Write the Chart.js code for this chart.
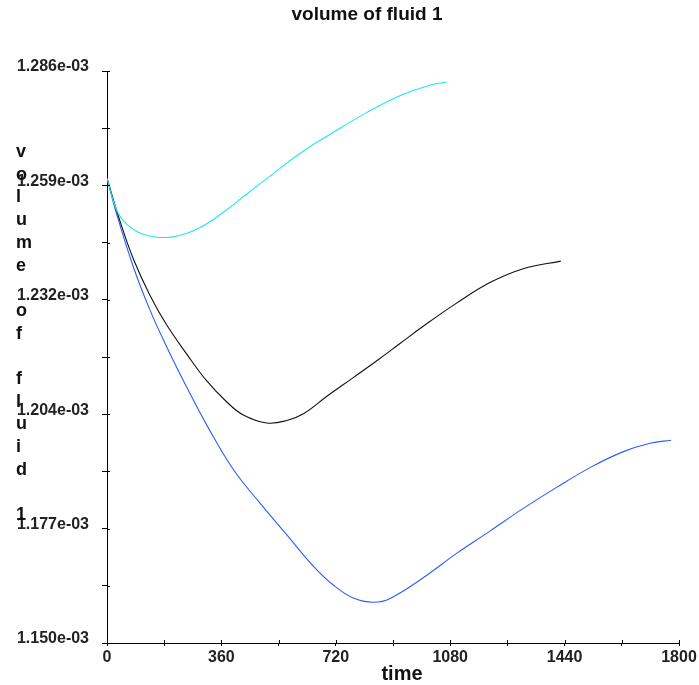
<!DOCTYPE html>
<html>
<head>
<meta charset="utf-8">
<script src="https://cdn.jsdelivr.net/npm/chart.js@4/dist/chart.umd.min.js"></script>
<style>
  html, body { margin: 0; padding: 0; background: #fff; }
  #wrap { width: 699px; height: 685px; position: relative; }
</style>
</head>
<body>
<div id="wrap"><canvas id="fluidChart"></canvas></div>
<script>
// time values (x) and volume of fluid 1 (y)
const cyanTime = [0, 30, 62, 114, 188, 251, 314, 377, 429, 523, 607, 712, 817, 922, 1016, 1069];
const cyanVol = [1.2605e-3, 1.2530e-3, 1.2496e-3, 1.2472e-3, 1.2464e-3, 1.2474e-3, 1.2497e-3, 1.2530e-3,
                 1.2561e-3, 1.2616e-3, 1.2664e-3, 1.2714e-3, 1.2761e-3, 1.2801e-3, 1.2826e-3, 1.2834e-3];

const blackTime = [0, 41, 83, 135, 188, 251, 314, 377, 429, 503, 566, 618, 691, 775, 849, 922, 995, 1100, 1205, 1310, 1428];
const blackVol = [1.2605e-3, 1.2503e-3, 1.2413e-3, 1.2327e-3, 1.2256e-3, 1.2187e-3, 1.2123e-3, 1.2073e-3,
                  1.2042e-3, 1.2023e-3, 1.2029e-3, 1.2045e-3, 1.2086e-3, 1.2131e-3, 1.2171e-3, 1.2212e-3,
                  1.2253e-3, 1.2308e-3, 1.2357e-3, 1.2390e-3, 1.2408e-3];

const blueTime = [0, 30, 83, 135, 188, 251, 314, 397, 481, 566, 649, 712, 775, 838, 891, 995, 1100, 1205, 1310, 1415, 1520, 1625, 1709, 1775];
const blueVol = [1.2605e-3, 1.2521e-3, 1.2394e-3, 1.2292e-3, 1.2204e-3, 1.2108e-3, 1.2018e-3, 1.1913e-3,
                 1.1833e-3, 1.1757e-3, 1.1683e-3, 1.1638e-3, 1.1607e-3, 1.1597e-3, 1.1606e-3, 1.1655e-3,
                 1.1713e-3, 1.1766e-3, 1.1820e-3, 1.1870e-3, 1.1917e-3, 1.1955e-3, 1.1975e-3, 1.1982e-3];

const xTickValues = [0, 180, 360, 540, 720, 900, 1080, 1260, 1440, 1620, 1800];
const xTickLabels = ['0', '', '360', '', '720', '', '1080', '', '1440', '', '1800'];
const yTickValues = [1.150e-3, 1.1636e-3, 1.1772e-3, 1.1908e-3, 1.2044e-3, 1.2180e-3, 1.2316e-3, 1.2452e-3, 1.2588e-3, 1.2724e-3, 1.286e-3];
const yTickLabels = ['1.150e-03', '', '1.177e-03', '', '1.204e-03', '', '1.232e-03', '', '1.259e-03', '', '1.286e-03'];

const chartTitle = 'volume of fluid 1';
const xTitle = 'time';
const yTitle = 'volume of fluid 1';

const FONT = '"Liberation Sans", Arial, sans-serif';

function toPoints(xs, ys) {
    const pts = [];
    for (var i = 0; i < xs.length; i++) {
        pts.push({ x: xs[i], y: ys[i] });
    }
    return pts;
}

function makeLine(xs, ys, color) {
    return {
        data: toPoints(xs, ys),
        borderColor: color,
        backgroundColor: color,
        borderWidth: 1.1,
        pointRadius: 0,
        fill: false,
        tension: 0.4
    };
}

// titles, stacked y label and the inner half of each tick mark
const textPlugin = {
    id: 'textPlugin',
    afterDraw(chart) {
        const ctx = chart.ctx;
        const xs = chart.scales.x;
        const ys = chart.scales.y;
        ctx.save();
        ctx.strokeStyle = '#000';
        ctx.lineWidth = 1;
        ctx.beginPath();
        for (var i = 0; i < xTickValues.length; i++) {
            const px = Math.round(xs.getPixelForValue(xTickValues[i])) + 0.5;
            ctx.moveTo(px, xs.top);
            ctx.lineTo(px, xs.top - 3);
        }
        for (var j = 0; j < yTickValues.length; j++) {
            const py = Math.round(ys.getPixelForValue(yTickValues[j])) + 0.5;
            ctx.moveTo(ys.right, py);
            ctx.lineTo(ys.right + 3, py);
        }
        ctx.stroke();

        ctx.fillStyle = '#111';
        ctx.textAlign = 'center';
        ctx.textBaseline = 'middle';
        ctx.font = 'bold 19px ' + FONT;
        ctx.fillText(chartTitle, 367, 15);
        ctx.font = 'bold 20px ' + FONT;
        ctx.textBaseline = 'alphabetic';
        ctx.fillText(xTitle, 402, 680);

        ctx.textAlign = 'left';
        ctx.font = 'bold 18px ' + FONT;
        for (var k = 0; k < yTitle.length; k++) {
            if (yTitle[k] !== ' ') {
                ctx.fillText(yTitle[k], 16, 157 + k * 22.7);
            }
        }
        ctx.restore();
    }
};

new Chart(document.getElementById('fluidChart').getContext('2d'), {
    type: 'line',
    data: {
        datasets: [
            makeLine(cyanTime, cyanVol, '#1ee8ef'),
            makeLine(blackTime, blackVol, '#111111'),
            makeLine(blueTime, blueVol, '#2c5cff')
        ]
    },
    options: {
        responsive: true,
        maintainAspectRatio: false,
        animation: false,
        events: [],
        layout: { padding: { top: 71, right: 20, left: 0, bottom: 0 } },
        plugins: {
            legend: { display: false },
            tooltip: { enabled: false },
            title: { display: false }
        },
        scales: {
            x: {
                type: 'linear',
                min: 0,
                max: 1800,
                afterBuildTicks: function (scale) {
                    scale.ticks = xTickValues.map(function (v) { return { value: v }; });
                },
                afterFit: function (scale) { scale.height = 42; },
                border: { display: true, color: '#000', width: 1 },
                grid: { drawOnChartArea: false, drawTicks: true, tickLength: 3, color: '#000' },
                ticks: {
                    autoSkip: false,
                    maxRotation: 0,
                    padding: 2,
                    color: '#222',
                    font: { family: FONT, size: 16, weight: 'bold' },
                    callback: function (value, index) { return xTickLabels[index]; }
                }
            },
            y: {
                type: 'linear',
                min: 1.150e-3,
                max: 1.286e-3,
                afterBuildTicks: function (scale) {
                    scale.ticks = yTickValues.map(function (v) { return { value: v }; });
                },
                afterFit: function (scale) { scale.width = 107; },
                border: { display: true, color: '#000', width: 1 },
                grid: { drawOnChartArea: false, drawTicks: true, tickLength: 5, color: '#000' },
                ticks: {
                    autoSkip: false,
                    padding: 13,
                    labelOffset: -4,
                    color: '#222',
                    font: { family: FONT, size: 16, weight: 'bold' },
                    callback: function (value, index) { return yTickLabels[index]; }
                }
            }
        }
    },
    plugins: [textPlugin]
});
</script>
</body>
</html>
